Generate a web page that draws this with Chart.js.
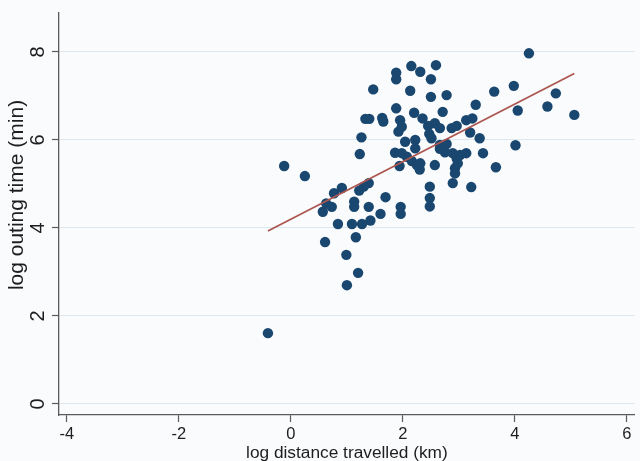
<!DOCTYPE html>
<html><head><meta charset="utf-8">
<script src="https://cdn.jsdelivr.net/npm/chart.js@4/dist/chart.umd.min.js"></script>
<style>html,body{margin:0;padding:0;background:#fafbfd;}canvas{display:block;}</style>
</head><body>
<canvas id="c" width="640" height="461"></canvas>
<script>
const logDistance = [-0.41,-0.12,0.25,0.57,0.61,0.63,0.73,0.77,0.84,0.91,0.99,1.00,1.09,1.13,1.13,1.16,1.20,1.22,1.23,1.26,1.27,1.30,1.33,1.40,1.39,1.39,1.42,1.47,1.60,1.63,1.65,1.69,1.86,1.88,1.88,1.88,1.92,1.94,1.95,1.96,1.96,1.98,1.98,2.04,2.07,2.13,2.15,2.16,2.20,2.22,2.22,2.25,2.30,2.31,2.31,2.35,2.45,2.47,2.48,2.48,2.48,2.50,2.50,2.51,2.57,2.57,2.59,2.66,2.66,2.71,2.78,2.78,2.66,2.75,2.87,2.89,2.93,2.93,2.89,2.96,2.98,2.96,3.02,3.13,3.24,3.20,3.13,3.22,3.30,3.37,3.43,3.63,3.66,3.98,4.01,4.05,4.25,4.58,4.73,5.06];
const logOutingTime = [1.61,5.41,5.18,4.37,3.68,4.56,4.48,4.79,4.09,4.91,3.39,2.70,4.09,4.60,4.48,3.79,2.98,4.85,5.68,6.06,4.09,4.94,6.48,6.48,5.02,4.48,4.17,7.15,4.32,6.50,6.42,4.70,5.71,7.53,7.38,6.72,6.19,5.41,6.45,4.48,4.32,5.70,6.30,5.96,5.62,7.12,7.68,5.52,6.62,6.00,5.81,5.43,5.33,5.47,7.55,6.49,6.32,6.14,4.94,4.68,4.49,7.38,6.98,6.04,5.43,6.38,7.70,6.27,5.89,6.64,7.02,5.91,5.80,5.72,6.27,5.70,5.36,5.24,5.02,5.58,5.47,6.32,5.66,6.45,6.49,6.17,5.70,4.93,6.80,6.04,5.70,7.10,5.38,7.23,5.88,6.67,7.97,6.76,7.06,6.57];
const fitX = [-0.41, 5.06];
const fitY = [3.93, 7.51];
const xTicks = [-4, -2, 0, 2, 4, 6];
const yTicks = [0, 2, 4, 6, 8];
const xTitle = 'log distance travelled (km)';
const yTitle = 'log outing time (min)';

function hasFont(name){
  const c = document.createElement('canvas').getContext('2d');
  c.font = '40px monospace';
  const a = c.measureText('log distance travelled').width;
  c.font = '40px "' + name + '", monospace';
  return c.measureText('log distance travelled').width !== a;
}
const narrow = hasFont('Liberation Sans Narrow');
const hFontFamily = narrow ? '"Liberation Sans Narrow", "Liberation Sans", Arial, sans-serif' : '"Liberation Sans", Arial, sans-serif';
const hTick = narrow ? 20 : 16.5;
const hTitle = narrow ? 21 : 17.3;

const points = logDistance.map((x, i) => ({x: x, y: logOutingTime[i]}));
const fitLine = fitX.map((x, i) => ({x: x, y: fitY[i]}));

const bgPlugin = {
  id: 'bg',
  beforeDraw(chart){
    const ctx = chart.ctx; ctx.save(); ctx.fillStyle = '#fafbfd';
    ctx.fillRect(0, 0, chart.width, chart.height); ctx.restore();
  }
};
const yTitlePlugin = {
  id: 'ytitle',
  afterDraw(chart){
    const {ctx, chartArea} = chart;
    ctx.save();
    ctx.translate(17, (chartArea.top + chartArea.bottom) / 2 - 19);
    ctx.rotate(-Math.PI / 2);
    ctx.font = '21px "Liberation Sans", Arial, sans-serif';
    ctx.fillStyle = '#1e1e1e';
    ctx.textAlign = 'center';
    ctx.textBaseline = 'middle';
    ctx.fillText(yTitle, 0, 0);
    ctx.restore();
  }
};

new Chart(document.getElementById('c'), {
  type: 'scatter',
  data: {
    datasets: [
      {type: 'line', data: fitLine, borderColor: '#ac5650', borderWidth: 1.8, pointRadius: 0, showLine: true, fill: false},
      {data: points, pointRadius: 5.2, pointBackgroundColor: '#1a476f', pointBorderWidth: 0, pointHoverRadius: 5.2}
    ]
  },
  options: {
    responsive: false,
    animation: false,
    devicePixelRatio: 1,
    events: [],
    layout: {padding: {top: 13, left: 0, right: 0, bottom: 0}},
    plugins: {legend: {display: false}, tooltip: {enabled: false}},
    scales: {
      x: {
        type: 'linear', min: -4.14, max: 6.14,
        afterBuildTicks: s => { s.ticks = xTicks.map(v => ({value: v})); },
        afterFit: s => { s.height = 46; s.paddingLeft = 0; s.paddingRight = 0; },
        grid: {drawOnChartArea: false, drawTicks: true, tickLength: 7, tickColor: '#5a5a5a', tickWidth: 1.2},
        border: {display: true, color: '#5a5a5a', width: 1.3},
        ticks: {font: {family: hFontFamily, size: hTick}, color: '#1e1e1e', padding: 3, maxRotation: 0, minRotation: 0, autoSkip: false},
        title: {display: true, text: xTitle, font: {family: hFontFamily, size: hTitle, lineHeight: 0.86}, color: '#1e1e1e', padding: {top: 0, bottom: 0}}
      },
      y: {
        type: 'linear', min: -0.25, max: 8.886,
        afterBuildTicks: s => { s.ticks = yTicks.map(v => ({value: v})); },
        afterFit: s => { s.width = 59; s.paddingTop = 0; s.paddingBottom = 0; },
        grid: {color: '#dde9f0', lineWidth: 1, drawTicks: true, tickLength: 7, tickColor: '#5a5a5a', tickWidth: 1.2},
        border: {display: true, color: '#5a5a5a', width: 1.3},
        ticks: {font: {family: '"Liberation Sans", Arial, sans-serif', size: 20}, color: '#1e1e1e', minRotation: 90, maxRotation: 90, crossAlign: 'center', padding: 8, autoSkip: false},
        title: {display: false}
      }
    }
  },
  plugins: [bgPlugin, yTitlePlugin]
});
</script>
</body></html>
